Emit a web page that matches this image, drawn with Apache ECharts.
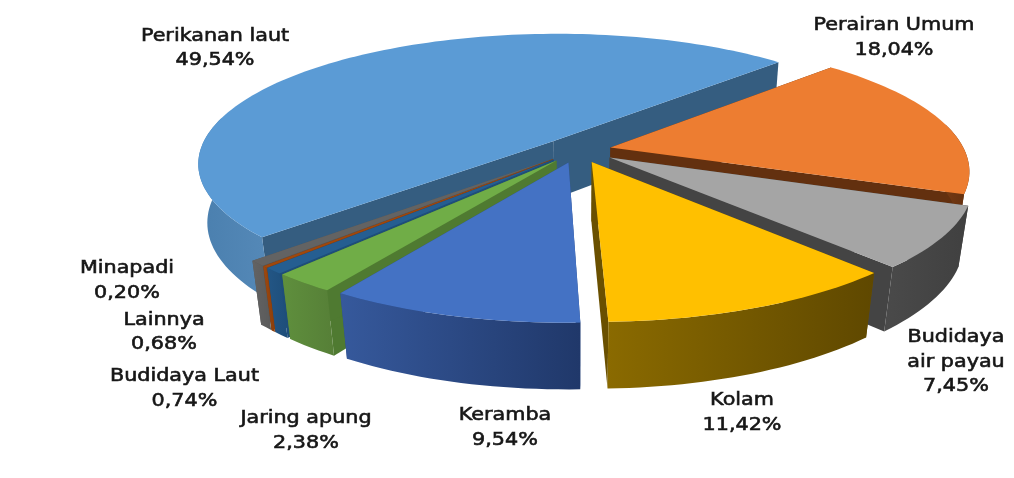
<!DOCTYPE html>
<html><head><meta charset="utf-8">
<style>html,body{margin:0;padding:0;background:#fff}#c{width:1014px;height:478px}</style>
<script src="https://cdn.jsdelivr.net/npm/echarts@6/dist/echarts.min.js"></script>
</head><body><div id="c"></div>
<script>
const categories = ['Perairan Umum','Budidaya\nair payau','Kolam','Keramba','Jaring apung','Budidaya Laut','Minapadi','Lainnya','Perikanan laut'];
const values = [18.04,7.45,11.42,9.54,2.38,0.74,0.20,0.68,49.54];
const explode = [0.094,0.106,0.1,0.1,0.1,0.1,0.1,0.1,0.1];
const topColors = ['#ED7D31','#A5A5A5','#FFC000','#4472C4','#70AD47','#255E91','#9E480E','#636363','#5B9BD5'];
const sideColors = ['#63300F','#444444','#6A5000','#2A4A85','#4F7A31','#1E4E7A','#8A3E0C','#555555','#355D80'];
const wallStops = [['#7a3c14','#63300F'],['#4a4a4a','#404040'],['#8A6A00','#5F4800'],['#36599C','#20386A'],['#5F8F3D','#567F37'],['#235685','#1E4E7A'],['#9E480E','#8A3E0C'],['#636363','#5A5A5A'],['#4A7FAE','#5589B8']];
const drawOrder = [8,0,1,7,6,5,4,3,2];
const labelAt = [[894,38],[956,362],[742,413],[505,428],[306,431],[184.5,389],[127,281],[164,332.5],[215,48.5]];

const startDeg = -44.7, CX = 578, CY = 150, R = 354, TILT = 0.362, PERSP = 0.17, DEPTH = 60, SHRINK = 0.024;
const rad = d => d * Math.PI / 180;
function project(X, Y, z) {
  const s = 1 / (1 - PERSP * Y + SHRINK * z);
  return [CX + R * X * s, CY + (R * TILT * Y + DEPTH * z) * s];
}
const spans = []; let acc = startDeg;
values.forEach(v => { const a = v * 3.6; spans.push([acc, acc + a]); acc += a; });

function renderItem(params, api) {
  const i = params.dataIndex, [a0, a1] = spans[i];
  const mid = rad((a0 + a1) / 2);
  const ox = explode[i] * Math.cos(mid), oy = explode[i] * Math.sin(mid);
  const rim = [], steps = Math.max(2, Math.ceil((a1 - a0) / 1.5));
  for (let k = 0; k <= steps; k++) {
    const a = rad(a0 + (a1 - a0) * k / steps);
    rim.push({ x: ox + Math.cos(a), y: oy + Math.sin(a), front: Math.sin(a) > -0.2 });
  }
  const z = drawOrder.indexOf(i) * 10 + 1;
  const top = [project(ox, oy, 0)].concat(rim.map(p => project(p.x, p.y, 0)));
  const A0 = project(ox, oy, 0), A1 = project(ox, oy, 1);
  const first = rim[0], last = rim[rim.length - 1];
  const quad = p => [A0, project(p.x, p.y, 0), project(p.x, p.y, 1), A1];
  const vis = rim.filter(p => p.front);
  const wall = vis.map(p => project(p.x, p.y, 0)).concat(vis.slice().reverse().map(p => project(p.x, p.y, 1)));
  const grad = { type:'linear', x:0, y:0, x2:1, y2:0, colorStops:[{offset:0,color:wallStops[i][0]},{offset:1,color:wallStops[i][1]}] };
  const [lx, ly] = labelAt[i];
  const children = [
    { type:'polygon', shape:{points:quad(first)}, style:{fill:sideColors[i]}, z2:z },
    { type:'polygon', shape:{points:quad(last)}, style:{fill:sideColors[i]}, z2:z }
  ];
  if (vis.length > 1) children.push({ type:'polygon', shape:{points:wall}, style:{fill:grad}, z2:z+1 });
  children.push(
    { type:'polygon', shape:{points:top}, style:{fill:topColors[i]}, z2:z+2 },
    { type:'text', x:lx, y:ly, scaleX:1.15, z2:500, style:{
        text: categories[i] + '\n' + values[i].toFixed(2).replace('.', ',') + '%',
        textAlign:'center', textVerticalAlign:'middle', fontFamily:'DejaVu Sans', fontSize:18, lineHeight:24.5,
        fill:'#161616', stroke:'#161616', lineWidth:0.6 } }
  );
  return { type:'group', children };
}
const chart = echarts.init(document.getElementById('c'), null, {renderer:'canvas'});
chart.setOption({
  animation:false, backgroundColor:'#fff',
  series:[{ type:'custom', coordinateSystem:'none', renderItem,
    data: categories.map((c, i) => ({ name:c, value:values[i] })) }]
});
</script></body></html>
